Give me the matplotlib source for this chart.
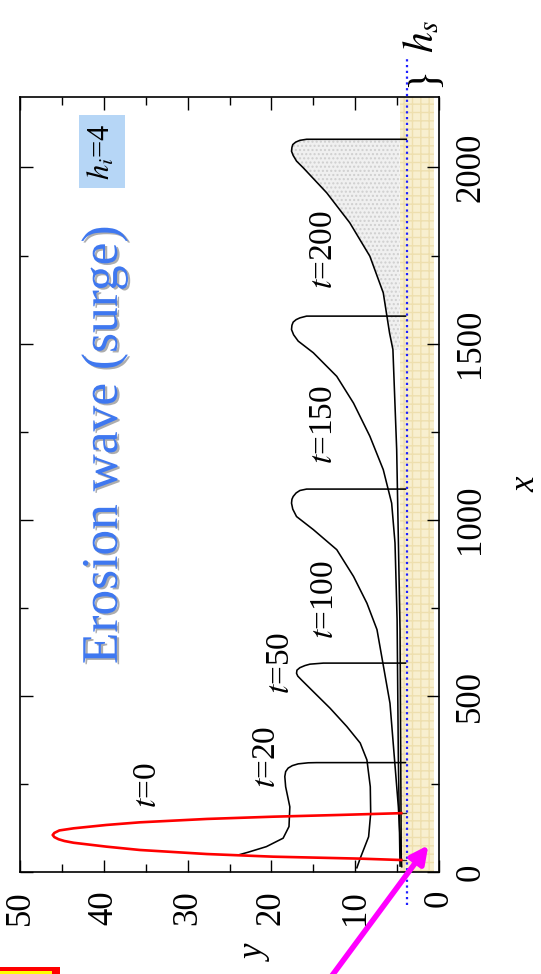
import matplotlib
matplotlib.use("Agg")
import matplotlib.pyplot as plt
import matplotlib.patheffects as pe
from matplotlib.patches import FancyArrowPatch, Rectangle

plt.rcParams["font.family"] = ["Liberation Serif", "DejaVu Serif"]
plt.rcParams["mathtext.fontset"] = "stix"

# ---- profiles h(x) of the erosion wave at several times ----
x_t0 = [34, 38, 43.5, 51, 62.5, 72, 83, 88, 93, 99, 105, 111, 118, 124, 133.5, 141, 150.6, 157, 162, 167]
h_t0 = [4.5, 9.5, 19.8, 27.7, 35.7, 39.7, 43.6, 44.7, 45.4, 45.9, 46.1, 45.9, 45.3, 43.6, 39.7, 35.7, 27.7, 19.8, 11.8, 4.5]

x_t20 = [48, 56, 72, 96, 129, 185, 242, 271, 285, 295, 302, 307, 310, 310.5, 310.5]
h_t20 = [24.0, 22.8, 20.6, 18.6, 17.9, 17.8, 18.3, 18.4, 18.3, 18.0, 17.5, 16.8, 15.6, 14.6, 4.0]

x_t50 = [12, 39, 100, 167, 242, 318, 366, 413, 465, 512, 545, 556, 564, 573, 580, 586, 590, 593, 593]
h_t50 = [9.8, 9.4, 8.4, 8.15, 8.2, 8.6, 9.4, 11.0, 13.0, 15.0, 16.4, 16.85, 17.0, 16.95, 16.6, 16.0, 15.4, 13.8, 4.0]

x_t100 = [15, 185, 479, 688, 763, 839, 915, 972, 1009, 1030, 1047, 1058, 1066, 1076, 1083, 1087, 1087]
h_t100 = [4.45, 4.85, 5.85, 7.4, 8.6, 10.2, 12.2, 15.0, 17.0, 17.45, 17.6, 17.55, 17.4, 17.05, 16.6, 15.8, 4.0]

x_t150 = [17, 318, 716, 934, 1047, 1142, 1237, 1331, 1407, 1474, 1507, 1525, 1540, 1552, 1561, 1568, 1573, 1578, 1578]
h_t150 = [4.65, 4.85, 5.0, 5.25, 5.65, 6.65, 8.25, 10.2, 12.2, 15.0, 16.8, 17.35, 17.6, 17.55, 17.4, 17.05, 16.6, 15.8, 4.0]

x_t200 = [17, 688, 1199, 1483, 1530, 1644, 1748, 1843, 1928, 1999, 2018, 2034, 2046, 2057, 2065, 2072, 2077, 2080, 2080]
h_t200 = [4.5, 4.65, 5.05, 5.5, 5.9, 6.65, 8.25, 10.65, 13.4, 16.2, 17.0, 17.4, 17.6, 17.55, 17.45, 17.1, 16.6, 15.8, 3.9]

# erodible bed and its initial thickness
bed_bottom = 0.63
bed_top = 4.7
h_s = 3.8

x_ticks = [0, 500, 1000, 1500, 2000]
x_minor = [250, 750, 1250, 1750]
y_ticks = [50, 40, 30, 20, 10, 0]
y_minor = [45, 35, 25, 15, 5]

W, H = 541, 974
fig = plt.figure(figsize=(W / 100, H / 100), dpi=100)
fig.patch.set_facecolor("white")

# the plot is laid out turned a quarter turn: height runs right-to-left,
# distance runs bottom-to-top
left, right, top, bottom = 20, 439, 97, 872
ax = fig.add_axes([left / W, 1 - bottom / H, (right - left) / W, (bottom - top) / H])
ax.set_xlim(50, 0)
ax.set_ylim(0, 2200)

# sediment bed
ax.axvspan(bed_bottom, bed_top, facecolor="#f8efcf", edgecolor="#eedfae",
           hatch="++", linewidth=0, zorder=0)

# shaded body of the last surge
sub = [i for i, xv in enumerate(x_t200) if xv >= 1450]
ax.fill_betweenx([x_t200[i] for i in sub], [h_t200[i] for i in sub], bed_top,
                 facecolor="#f0f0f0", edgecolor="#cfcfcf", hatch="....",
                 linewidth=0, zorder=1)

lw = 1.15
for xs, hs in [(x_t20, h_t20), (x_t50, h_t50), (x_t100, h_t100),
               (x_t150, h_t150), (x_t200, h_t200)]:
    ax.plot(hs, xs, color="black", lw=lw, zorder=3, solid_joinstyle="round")
ax.plot(h_t0, x_t0, color="#ff0000", lw=1.9, zorder=4, solid_joinstyle="round")
# red profile feet down into the bed
ax.plot([h_t0[0], 3.9], [x_t0[0], x_t0[0]], color="#333333", lw=0.9, zorder=3)
ax.plot([h_t0[-1], 3.9], [x_t0[-1], x_t0[-1]], color="#333333", lw=0.9, zorder=3)

# initial bed surface
ax.plot([h_s, h_s], [-94, 2307], linestyle=(0, (1, 1.6)), color="#1f1fff",
        lw=1.6, clip_on=False, zorder=5)

ax.set_xticks(y_ticks)
ax.set_xticks(y_minor, minor=True)
ax.set_xticklabels([str(v) for v in y_ticks])
ax.set_yticks(x_ticks)
ax.set_yticks(x_minor, minor=True)
ax.set_yticklabels([str(v) for v in x_ticks])
ax.yaxis.tick_right()
ax.tick_params(which="both", direction="in", top=True, bottom=True,
               left=True, right=True, labelleft=False, labelright=True,
               width=1.0, colors="black")
ax.tick_params(which="major", length=9)
ax.tick_params(which="minor", length=5.5)
ax.tick_params(axis="x", labelrotation=90, pad=13, labelsize=25)
ax.tick_params(axis="y", labelrotation=90, pad=11, labelsize=25)
for lab in ax.get_yticklabels():
    lab.set_verticalalignment("center")
    lab.set_horizontalalignment("left")
for lab in ax.get_xticklabels():
    lab.set_verticalalignment("top")
    lab.set_horizontalalignment("center")
for sp in ax.spines.values():
    sp.set_linewidth(1.2)

# curve labels
for txt, hx, xx in [("$t$=0", 34.7, 247), ("$t$=20", 20.6, 327),
                    ("$t$=50", 18.9, 594), ("$t$=100", 13.6, 773),
                    ("$t$=150", 13.7, 1270), ("$t$=200", 13.7, 1767)]:
    ax.text(hx, xx, txt, rotation=90, ha="center", va="center", fontsize=24, zorder=6)

ax.text(39.9, 1213, "Erosion wave (surge)", rotation=90, ha="center", va="center",
        fontsize=37, color="#3f78f0", zorder=6,
        path_effects=[pe.withSimplePatchShadow(offset=(1.6, -1.2),
                                               shadow_rgbFace="#8a8a8a", alpha=0.7)])
ax.text(40.2, 2045, "$h_i$=4", rotation=90, ha="center", va="center", fontsize=22,
        zorder=6, bbox=dict(facecolor="#b6d6f6", edgecolor="none", pad=6))

# axis titles and bed thickness annotation
fig.text(526 / W, 1 - 484 / H, "x", rotation=90, ha="center", va="center",
         fontsize=25, style="italic")
fig.text(256 / W, 1 - 953 / H, "y", rotation=90, ha="center", va="center",
         fontsize=25, style="italic")
fig.text(424 / W, 1 - 77 / H, "}", rotation=90, ha="center", va="center", fontsize=30)
fig.text(422 / W, 1 - 36 / H, "$h_s$", rotation=90, ha="center", va="center", fontsize=30)

# pointer to the bed and a marker box in the corner
arrow = FancyArrowPatch((314 / W, 1 - 1000 / H), (430 / W, 1 - 843 / H),
                        transform=fig.transFigure, arrowstyle="-|>",
                        mutation_scale=26, lw=4, color="#ff00ff", zorder=10)
fig.add_artist(arrow)
fig.add_artist(Rectangle((0, 0), 60 / W, 7 / H, transform=fig.transFigure,
                         facecolor="#ff0000", edgecolor="none"))
fig.add_artist(Rectangle((0, 0), 52 / W, 3 / H, transform=fig.transFigure,
                         facecolor="#ffff00", edgecolor="none"))

fig.savefig("out.png", dpi=100)
